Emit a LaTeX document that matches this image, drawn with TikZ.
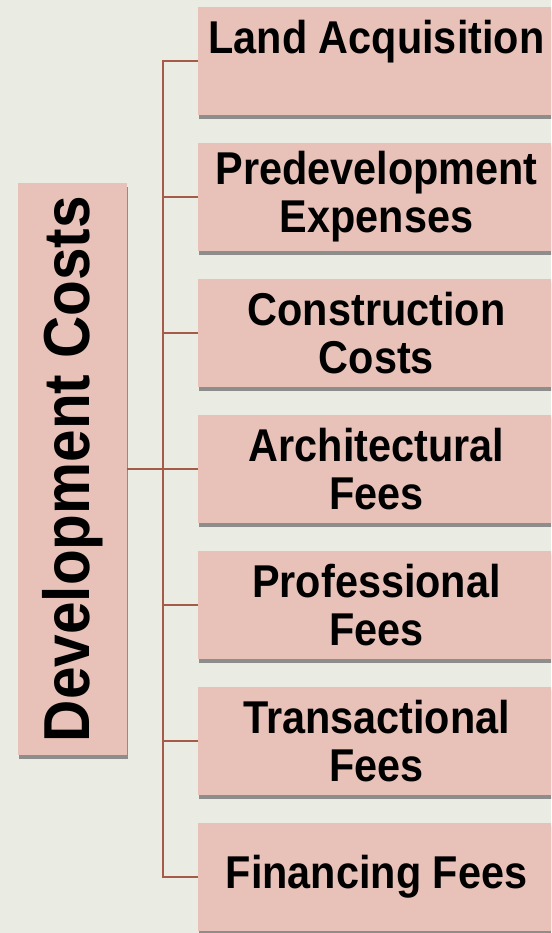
\documentclass[tikz,border=0pt]{standalone}
\usepackage{fontspec}
\setmainfont{Liberation Sans}[FakeStretch=0.9]
\usetikzlibrary{shadows}
\definecolor{paper}{HTML}{EAEBE3}
\definecolor{boxpink}{HTML}{E8C2B8}
\definecolor{linebrown}{HTML}{A65A48}
\begin{document}
\begin{tikzpicture}[x=1pt,y=-1pt]

  \tikzstyle{cost}=[rectangle,fill=boxpink,minimum width=357pt,minimum height=108pt,inner sep=0pt,align=center,
    font=\bfseries\fontsize{46}{48}\selectfont,drop shadow={shadow xshift=1pt,shadow yshift=-4pt,fill=black!60,opacity=0.7}]
  \tikzstyle{conn}=[linebrown,line width=2pt]

  \fill[paper] (0,0) rectangle (551,933);
  \useasboundingbox (0,0) rectangle (551,933);
  \clip (0,0) rectangle (551,933);

  \node[rectangle,fill=boxpink,rotate=90,minimum width=572pt,minimum height=109pt,inner sep=0pt,
    font=\bfseries\fontsize{65}{65}\selectfont,drop shadow={shadow xshift=1pt,shadow yshift=-4pt,fill=black!60,opacity=0.7}]
    (dev) at (72.5,469) {Development Costs};

  \node[cost] (b1) at (376.5,61)  {Land Acquisition\\~};
  \node[cost] (b2) at (376.5,197) {Predevelopment\\Expenses};
  \node[cost] (b3) at (376.5,333) {Construction\\Costs};
  \node[cost] (b4) at (376.5,469) {Architectural\\Fees};
  \node[cost] (b5) at (376.5,605) {Professional\\Fees};
  \node[cost] (b6) at (376.5,741) {Transactional\\Fees};
  \node[cost] (b7) at (376.5,877) {Financing Fees};

  \coordinate (hub) at (163,469);

  \draw[conn] (dev.south) -- (hub);
  \draw[conn] (hub) |- (b1.west);
  \draw[conn] (hub) |- (b2.west);
  \draw[conn] (hub) |- (b3.west);
  \draw[conn] (hub) -- (b4.west);
  \draw[conn] (hub) |- (b5.west);
  \draw[conn] (hub) |- (b6.west);
  \draw[conn] (hub) |- (b7.west);

\end{tikzpicture}
\end{document}
